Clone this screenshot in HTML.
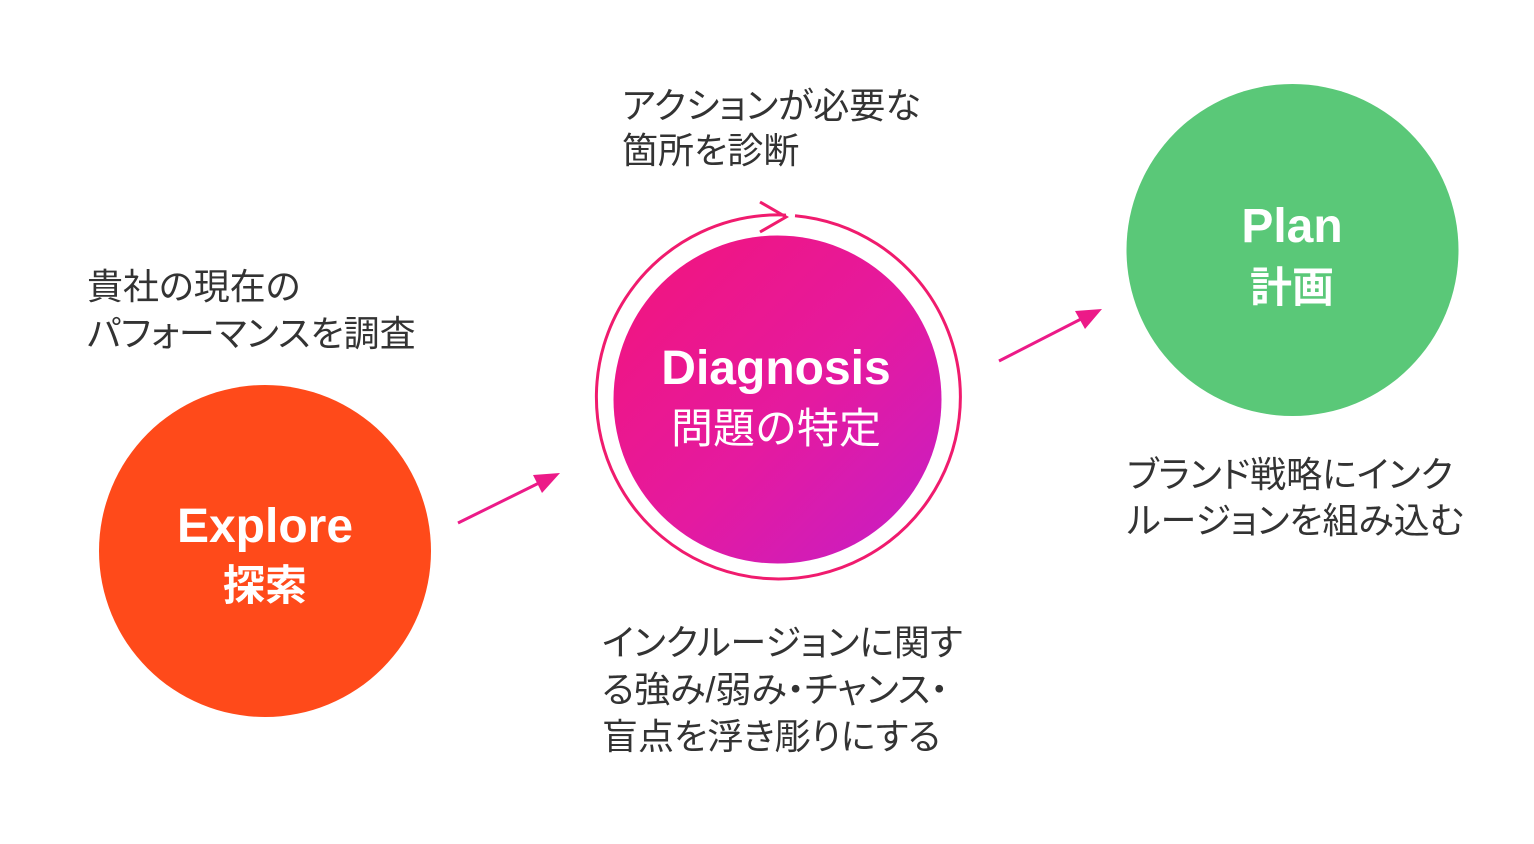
<!DOCTYPE html>
<html>
<head>
<meta charset="utf-8">
<style>
  html, body { margin:0; padding:0; background:#fff; }
  body { width:1534px; height:844px; position:relative; overflow:hidden; }
  svg { position:absolute; left:0; top:0; }
  .lbl {
    position:absolute; white-space:nowrap; color:#333;
    font-family:"Liberation Sans","Noto Sans CJK JP",sans-serif;
    font-size:36px; line-height:46px;
    font-feature-settings:"palt";
  }
  .t { position:absolute; white-space:nowrap; color:#fff; text-align:center; }
  .en { font-family:"Liberation Sans",sans-serif; font-weight:bold; font-size:48px; line-height:48px; }
  .jp { font-family:"Noto Sans CJK JP",sans-serif; font-size:42px; line-height:42px; }
</style>
</head>
<body>
<svg width="1534" height="844" viewBox="0 0 1534 844">
  <defs>
    <linearGradient id="dg" x1="0" y1="0" x2="1" y2="1">
      <stop offset="0" stop-color="#F3147A"/>
      <stop offset="0.55" stop-color="#E41AA0"/>
      <stop offset="1" stop-color="#C41EC8"/>
    </linearGradient>
  </defs>
  <!-- Explore -->
  <circle cx="265" cy="551" r="166" fill="#FF4A1A"/>
  <!-- Plan -->
  <circle cx="1292.5" cy="250" r="166" fill="#5AC878"/>
  <!-- Diagnosis -->
  <circle cx="777.5" cy="399.5" r="164" fill="url(#dg)"/>
  <path d="M 795 215.7 A 182 182 0 1 1 786 215.1" fill="none" stroke="#F01B6E" stroke-width="3"/>
  <polyline points="760,202 786,217 760,232" fill="none" stroke="#F01B6E" stroke-width="3"/>
  <!-- arrow 1 -->
  <line x1="458" y1="523" x2="541" y2="482" stroke="#EC1A88" stroke-width="3"/>
  <polygon points="560,473 542,493 533,475" fill="#EC1A88"/>
  <!-- arrow 2 -->
  <line x1="999" y1="361" x2="1083" y2="318" stroke="#EC1A88" stroke-width="3"/>
  <polygon points="1102,309 1085,329 1075,311" fill="#EC1A88"/>
</svg>

<div class="lbl" style="left:87px; top:263px; line-height:47px;">貴社の現在の<br>パフォーマンスを調査</div>
<div class="lbl" style="left:622px; top:83px; line-height:45px;">アクションが必要な<br>箇所を診断</div>
<div class="lbl" style="left:602px; top:619px; line-height:47px;">インクルージョンに関す<br>る強み/弱み・チャンス・<br>盲点を浮き彫りにする</div>
<div class="lbl" style="left:1127px; top:452px;">ブランド戦略にインク<br>ルージョンを組み込む</div>

<div class="t en" style="left:115px; width:300px; top:503px;">Explore</div>
<div class="t jp" style="left:115px; width:300px; top:562px; font-weight:bold;">探索</div>

<div class="t en" style="left:626px; width:300px; top:345px;">Diagnosis</div>
<div class="t jp" style="left:626px; width:300px; top:405px;">問題の特定</div>

<div class="t en" style="left:1142px; width:300px; top:203px;">Plan</div>
<div class="t jp" style="left:1142px; width:300px; top:264px; font-weight:bold;">計画</div>
</body>
</html>
